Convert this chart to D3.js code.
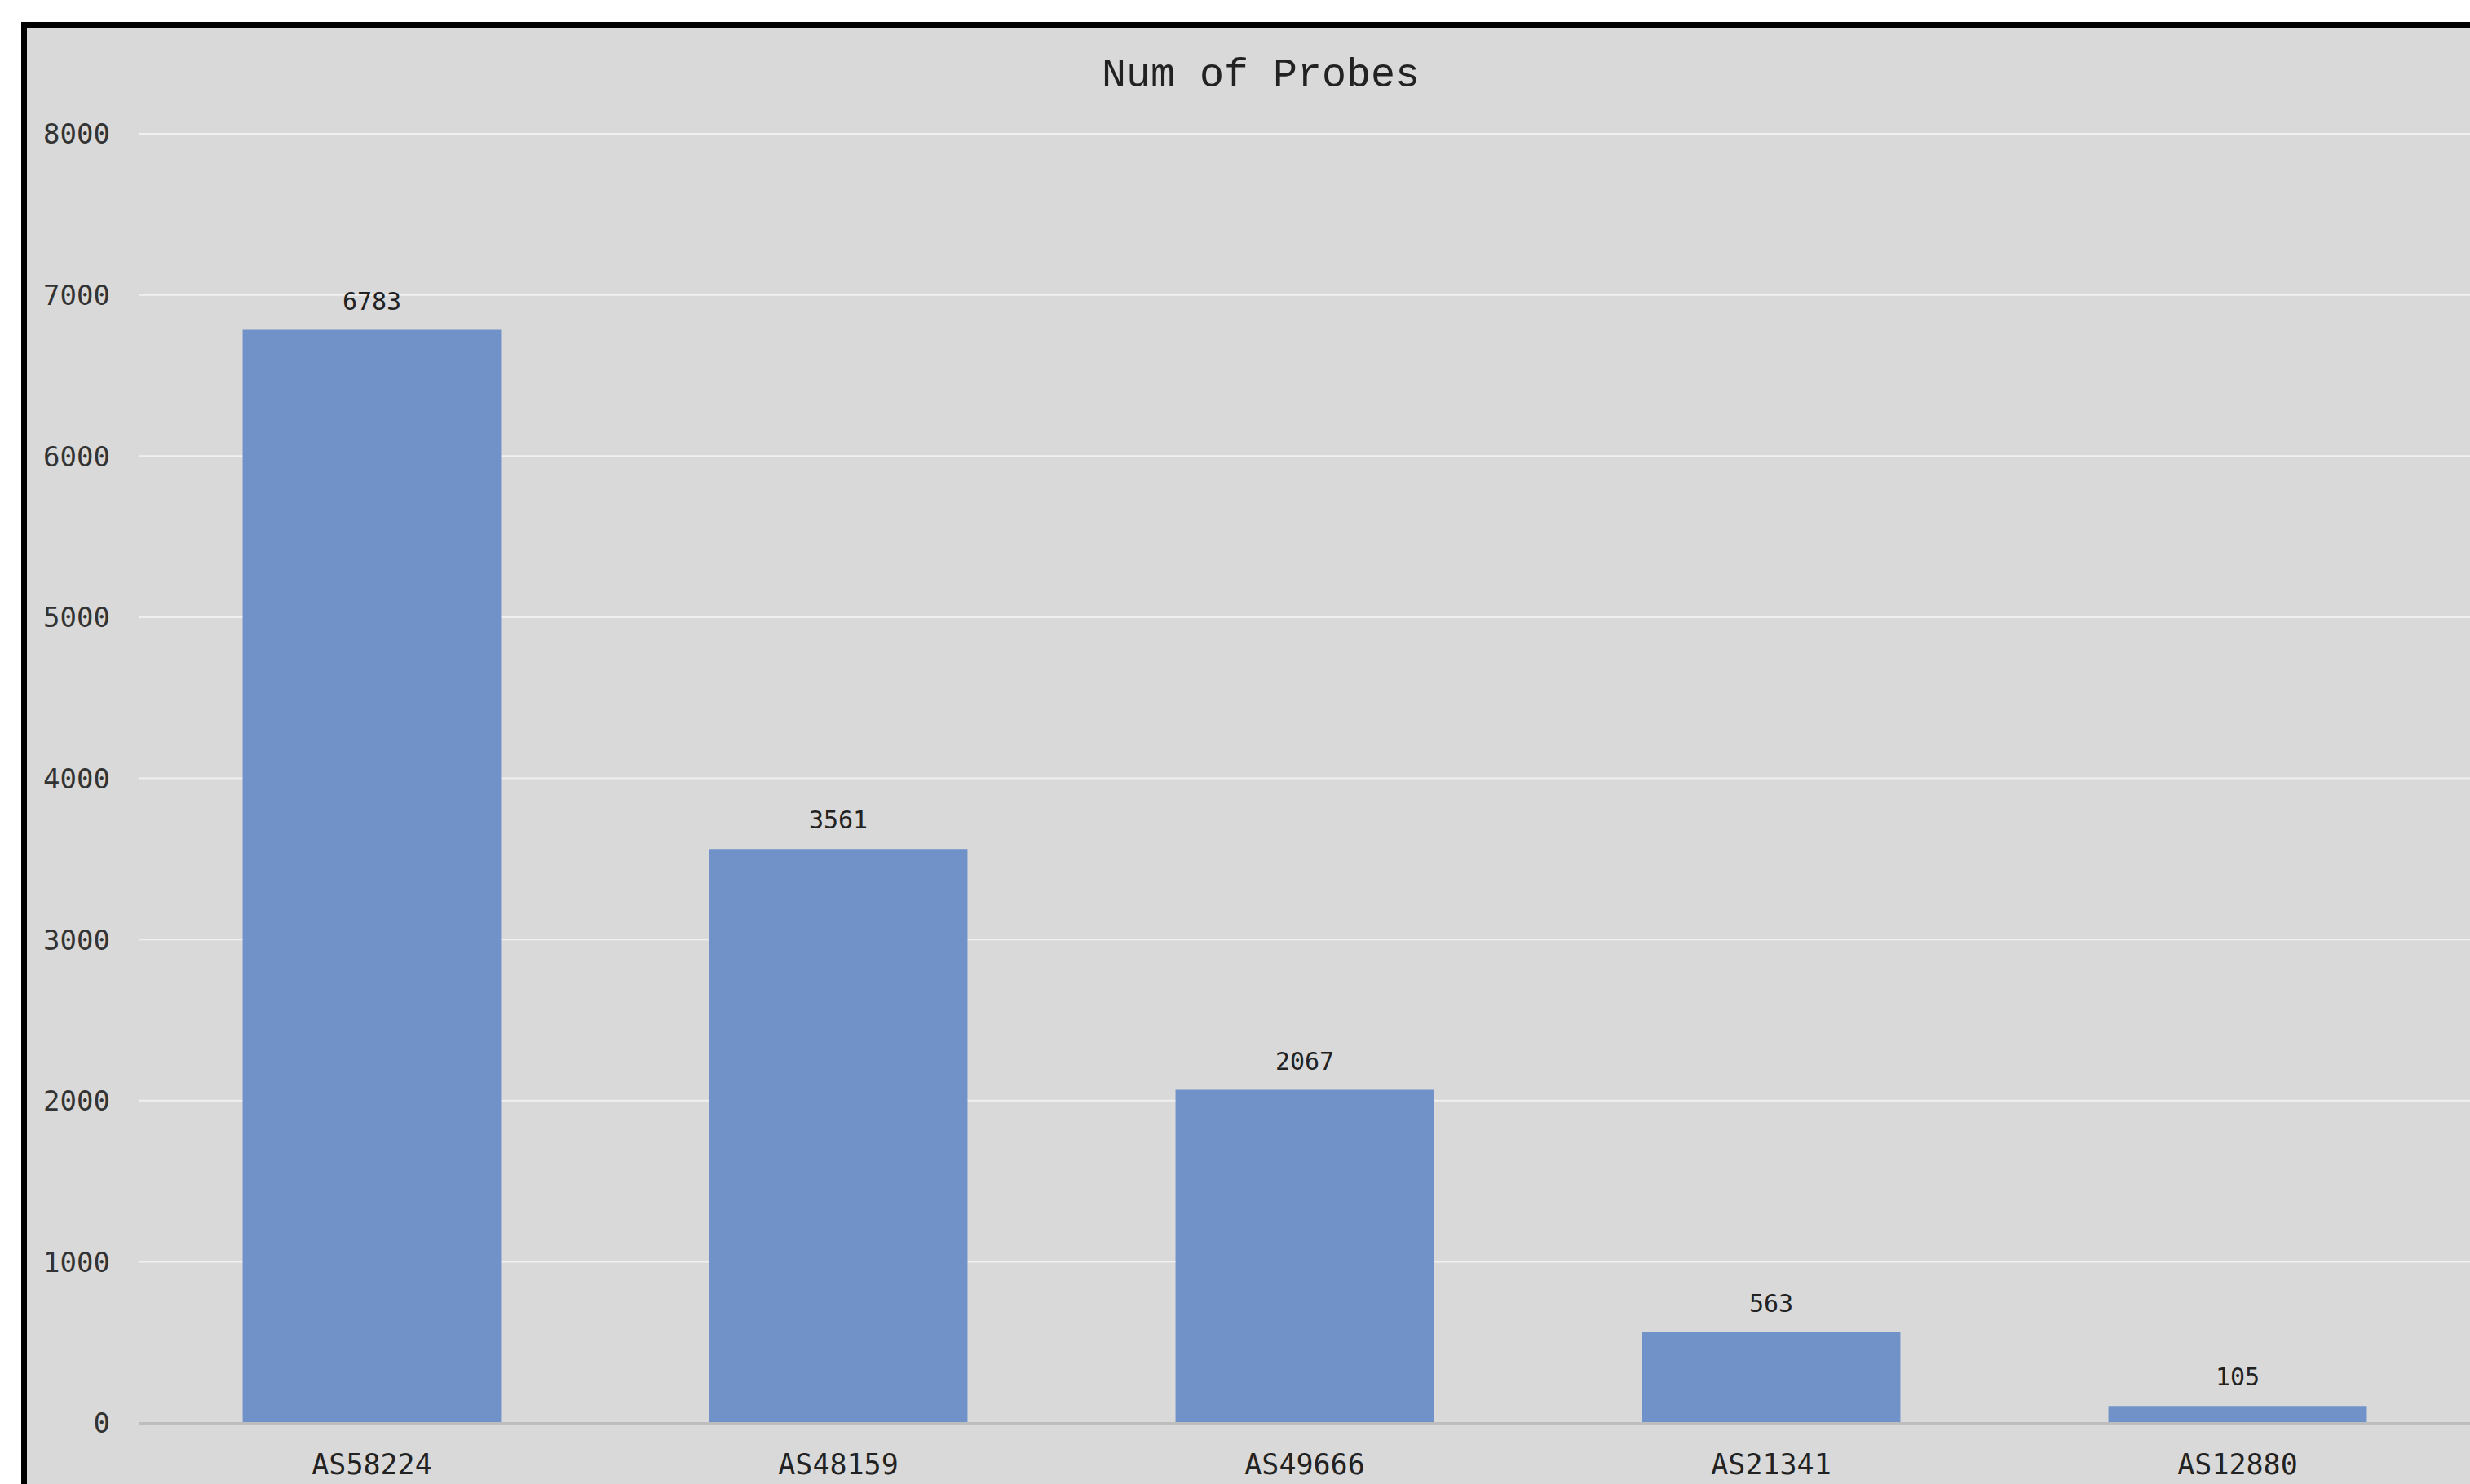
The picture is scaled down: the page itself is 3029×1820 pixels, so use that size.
<!DOCTYPE html>
<html>
<head>
<meta charset="utf-8">
<script src="https://cdn.jsdelivr.net/npm/d3@7"></script>
<style>
  html, body { margin: 0; padding: 0; background: #ffffff; overflow: hidden; }
  svg { display: block; }
</style>
</head>
<body>
<svg id="chart" width="3029" height="1820"></svg>
<script>
const categories = ["AS58224", "AS48159", "AS49666", "AS21341", "AS12880"];
const values = [6783, 3561, 2067, 563, 105];
const yTicks = [0, 1000, 2000, 3000, 4000, 5000, 6000, 7000, 8000];
const title = "Num of Probes";

(function () {
const W = 3029, H = 1820;
const svg = d3.select("#chart");

// panel with black frame (right/bottom run off the picture)
svg.append("rect")
  .attr("x", 29.5).attr("y", 30.5)
  .attr("width", W + 40).attr("height", H + 40)
  .attr("fill", "#d9d9d9")
  .attr("stroke", "#000").attr("stroke-width", 7);

const pLeft = 170, pRight = 3030, pTop = 164, pBottom = 1745;

const x = d3.scaleBand().domain(categories).range([pLeft, pRight]).paddingInner(0.446).paddingOuter(0.223);
const y = d3.scaleLinear().domain([0, 8000]).range([pBottom, pTop]);

// gridlines
svg.append("g").selectAll("line").data(yTicks.filter(d => d > 0)).join("line")
  .attr("x1", pLeft).attr("x2", W)
  .attr("y1", d => y(d)).attr("y2", d => y(d))
  .attr("stroke", "#f0f0f0").attr("stroke-width", 2);

// y axis labels
const yAxis = d3.axisLeft(y).tickValues(yTicks).tickSize(0).tickPadding(0).tickFormat(d3.format("d"));
const gy = svg.append("g").attr("transform", `translate(135,0)`).call(yAxis);
gy.select(".domain").remove();
gy.selectAll("text")
  .attr("font-family", "'DejaVu Sans Mono', monospace")
  .attr("font-size", 34).attr("fill", "#333").attr("dy", "0.35em");

// bars
svg.append("g").selectAll("rect").data(values).join("rect")
  .attr("x", (d, i) => x(categories[i]))
  .attr("width", x.bandwidth())
  .attr("y", d => y(d))
  .attr("height", d => y(0) - y(d))
  .attr("fill", "#7092c9");

// baseline
svg.append("line")
  .attr("x1", pLeft).attr("x2", W)
  .attr("y1", y(0) + 1).attr("y2", y(0) + 1)
  .attr("stroke", "#bdbdbd").attr("stroke-width", 4);

// value labels
svg.append("g").selectAll("text").data(values).join("text")
  .attr("x", (d, i) => x(categories[i]) + x.bandwidth() / 2)
  .attr("y", d => y(d) - 25)
  .attr("text-anchor", "middle")
  .attr("font-family", "'DejaVu Sans Mono', monospace")
  .attr("font-size", 30).attr("fill", "#222")
  .text(d => d);

// x axis labels
const xAxis = d3.axisBottom(x).tickSize(0).tickPadding(0);
const gx = svg.append("g").attr("transform", `translate(0,${pBottom})`).call(xAxis);
gx.select(".domain").remove();
gx.selectAll("text")
  .attr("font-family", "'DejaVu Sans Mono', monospace")
  .attr("font-size", 35).attr("fill", "#222")
  .attr("y", 0).attr("dy", 63);

// title
svg.append("text")
  .attr("x", 1546).attr("y", 106)
  .attr("text-anchor", "middle")
  .attr("font-family", "'Liberation Mono', monospace")
  .attr("font-size", 50).attr("fill", "#222")
  .text(title);
})();
</script>
</body>
</html>
